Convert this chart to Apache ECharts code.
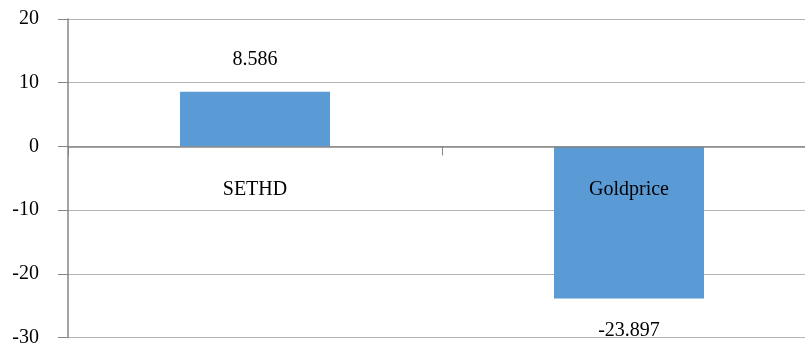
<!DOCTYPE html>
<html><head><meta charset="utf-8">
<script src="https://cdn.jsdelivr.net/npm/echarts@6/dist/echarts.min.js"></script>
<style>html,body{margin:0;padding:0;background:#fff}#c{width:805px;height:345px}</style>
</head><body><div id="c"></div>
<script>
const categories = ['SETHD', 'Goldprice'];
const values = [8.586, -23.897];
const yMin = -30, yMax = 20, yStep = 10;

const gridTop = 19, gridHeight = 318.5;
const zeroOffset = -(0 - yMin) / (yMax - yMin) * gridHeight;

const chart = echarts.init(document.getElementById('c'), null, {renderer: 'canvas'});
const font = "'Times New Roman', 'Liberation Serif', serif";
chart.setOption({
  animation: false,
  backgroundColor: '#ffffff',
  grid: {left: 68, top: gridTop, width: 748, height: gridHeight, containLabel: false, outerBoundsMode: 'none'},
  xAxis: {
    type: 'category', data: categories, position: 'bottom', offset: zeroOffset,
    axisLine: {onZero: false, lineStyle: {color: '#868686', width: 1.5}},
    axisTick: {show: true, length: 9, lineStyle: {color: '#868686'}},
    axisLabel: {margin: 33, color: '#000', fontFamily: font, fontSize: 20},
    z: 10
  },
  yAxis: {
    type: 'value', min: yMin, max: yMax, interval: yStep,
    axisLine: {show: true, lineStyle: {color: '#868686', width: 1.5}},
    axisTick: {show: true, length: 10, lineStyle: {color: '#868686'}},
    axisLabel: {margin: 29, color: '#000', fontFamily: font, fontSize: 20},
    splitLine: {lineStyle: {color: '#b4b4b4', width: 1.2}}
  },
  series: [{
    type: 'bar', barWidth: 150,
    itemStyle: {color: '#5b9bd5'},
    label: {show: true, distance: 22, color: '#000', fontFamily: font, fontSize: 20,
      formatter: p => String(p.value)},
    data: values.map(v => ({value: v, label: {position: v < 0 ? 'bottom' : 'top'}}))
  }]
});
</script></body></html>
